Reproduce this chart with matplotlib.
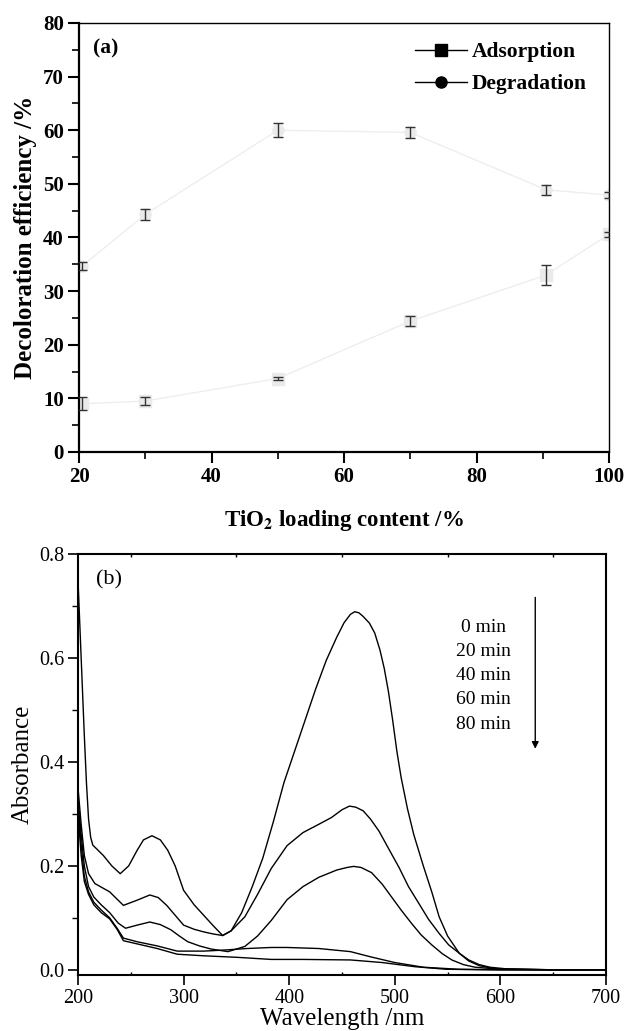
import matplotlib.pyplot as plt
from matplotlib.ticker import MultipleLocator
from matplotlib.lines import Line2D

plt.rcParams['font.family'] = ['Liberation Serif', 'DejaVu Serif']
plt.rcParams['mathtext.fontset'] = 'stix'

# (a) decoloration efficiency vs TiO2 loading
loading = [20.5, 30, 50, 70, 90.5, 100]
adsorption = [9.0, 9.5, 13.7, 24.4, 33.0, 40.6]
adsorption_err = [1.2, 0.7, 0.3, 0.9, 1.9, 0.5]
degradation = [34.7, 44.3, 60.0, 59.6, 48.9, 47.9]
degradation_err = [0.7, 1.0, 1.3, 1.0, 0.9, 0.5]

# (b) UV-vis spectra
wl_0 = [200, 202, 204, 206, 208, 210, 212, 214, 224, 232, 240, 248, 256, 262, 270, 278, 285,
        292, 300, 310, 319, 328, 337, 345, 355, 365, 375, 385, 395, 405, 415, 425, 435, 445,
        452, 458, 462, 466, 470, 476, 481, 486, 490, 494, 498, 502, 506, 512, 518, 527, 535,
        542, 550, 561, 570, 580, 595, 650, 700]
ab_0 = [0.75, 0.65, 0.55, 0.45, 0.36, 0.29, 0.255, 0.24, 0.22, 0.2, 0.185, 0.2, 0.23, 0.25,
        0.258, 0.25, 0.23, 0.2, 0.153, 0.125, 0.105, 0.085, 0.066, 0.075, 0.11, 0.16, 0.215,
        0.285, 0.36, 0.42, 0.48, 0.54, 0.595, 0.64, 0.668, 0.684, 0.689, 0.687, 0.68, 0.667,
        0.648, 0.615, 0.58, 0.535, 0.48, 0.42, 0.37, 0.31, 0.26, 0.2, 0.15, 0.102, 0.065,
        0.032, 0.017, 0.008, 0.002, 0.0, 0.0]

wl_20 = [200, 203, 206, 210, 216, 230, 243, 256, 268, 276, 284, 292, 300, 310, 319, 328, 337,
         345, 358, 370, 383, 398, 413, 428, 440, 450, 457, 463, 470, 477, 485, 495, 504, 513,
         523, 532, 542, 551, 561, 570, 580, 590, 605, 650, 700]
ab_20 = [0.35, 0.28, 0.22, 0.185, 0.166, 0.15, 0.124, 0.134, 0.144, 0.139, 0.124, 0.105, 0.086,
         0.078, 0.073, 0.069, 0.066, 0.075, 0.102, 0.145, 0.195, 0.239, 0.264, 0.28, 0.293,
         0.308, 0.315, 0.313, 0.306, 0.29, 0.267, 0.23, 0.197, 0.16, 0.127, 0.097, 0.07, 0.048,
         0.032, 0.019, 0.01, 0.005, 0.002, 0.0, 0.0]

wl_40 = [200, 203, 206, 210, 215, 222, 230, 238, 245, 256, 268, 278, 288, 296, 304, 315, 326,
         342, 358, 370, 383, 398, 413, 428, 445, 455, 461, 468, 478, 488, 497, 506, 516, 525,
         535, 545, 554, 565, 576, 600, 650, 700]
ab_40 = [0.33, 0.26, 0.2, 0.16, 0.14, 0.125, 0.11, 0.09, 0.08, 0.086, 0.092, 0.087, 0.077,
         0.065, 0.054, 0.046, 0.04, 0.035, 0.045, 0.065, 0.095, 0.135, 0.16, 0.178, 0.192,
         0.197, 0.199, 0.197, 0.187, 0.165, 0.14, 0.115, 0.089, 0.067, 0.048, 0.031, 0.019,
         0.01, 0.005, 0.001, 0.0, 0.0]

wl_60 = [200, 203, 206, 210, 215, 222, 230, 237, 243, 256, 275, 294, 319, 338, 360, 383, 398,
         428, 458, 477, 500, 527, 561, 600, 700]
ab_60 = [0.32, 0.24, 0.18, 0.15, 0.13, 0.115, 0.1, 0.08, 0.061, 0.054, 0.046, 0.036, 0.036,
         0.038, 0.041, 0.043, 0.043, 0.041, 0.035, 0.025, 0.014, 0.005, 0.001, 0.0, 0.0]

wl_80 = [200, 203, 206, 210, 215, 222, 230, 237, 243, 275, 294, 319, 351, 383, 413, 458,
         488, 519, 549, 600, 700]
ab_80 = [0.30, 0.22, 0.17, 0.145, 0.125, 0.11, 0.098, 0.078, 0.056, 0.041, 0.03, 0.027, 0.024,
         0.02, 0.02, 0.019, 0.014, 0.006, 0.001, 0.0, 0.0]

times = ['0 min', '20 min', '40 min', '60 min', '80 min']

fig = plt.figure(figsize=(6.25, 10.31), dpi=100)

# ---- panel (a)
ax1 = fig.add_axes([0.1264, 0.5616, 0.848, 0.4161])
ax1.plot(loading, adsorption, color='#eeeeee', lw=1, marker='s', ms=8,
         mfc='#eaeaea', mec='#eaeaea', zorder=2)
ax1.plot(loading, degradation, color='#eeeeee', lw=1, marker='o', ms=8,
         mfc='#eaeaea', mec='#eaeaea', zorder=2)
ax1.errorbar(loading, adsorption, yerr=adsorption_err, fmt='none',
             ecolor='#333333', elinewidth=1, capsize=3.5, capthick=1, zorder=3)
ax1.errorbar(loading, degradation, yerr=degradation_err, fmt='none',
             ecolor='#333333', elinewidth=1, capsize=3.5, capthick=1, zorder=3)

ax1.set_xlim(20, 100)
ax1.set_ylim(0, 80)
ax1.xaxis.set_major_locator(MultipleLocator(20))
ax1.xaxis.set_minor_locator(MultipleLocator(10))
ax1.yaxis.set_major_locator(MultipleLocator(10))
ax1.yaxis.set_minor_locator(MultipleLocator(5))
ax1.tick_params(which='major', direction='out', length=8, width=1.5, labelsize=15, pad=3)
ax1.tick_params(which='minor', direction='out', length=5, width=1.2)
for lab in ax1.get_xticklabels() + ax1.get_yticklabels():
    lab.set_fontweight('bold')
for s in ['left', 'bottom']:
    ax1.spines[s].set_linewidth(1.6)
for s in ['top', 'right']:
    ax1.spines[s].set_linewidth(1.0)

ax1.set_xlabel('TiO$_{\\mathbf{2}}$ loading content /%', fontsize=16.5, fontweight='bold', labelpad=15)
ax1.set_ylabel('Decoloration efficiency /%', fontsize=18, fontweight='bold', labelpad=4)
ax1.text(24.1, 75.2, '(a)', fontsize=15.5, fontweight='bold', ha='center', va='center')

handles = [Line2D([], [], color='black', lw=1, marker='s', ms=8),
           Line2D([], [], color='black', lw=1, marker='o', ms=8)]
ax1.legend(handles, ['Adsorption', 'Degradation'], loc='upper right', frameon=False,
           prop={'size': 15.5, 'weight': 'bold'}, handlelength=2.4, handletextpad=0.25,
           labelspacing=0.55, borderaxespad=0.0, bbox_to_anchor=(0.975, 0.975))

# ---- panel (b)
ax2 = fig.add_axes([0.1248, 0.0543, 0.8448, 0.4083])
for wl, ab in [(wl_0, ab_0), (wl_20, ab_20), (wl_40, ab_40), (wl_60, ab_60), (wl_80, ab_80)]:
    ax2.plot(wl, ab, color='black', lw=1)

ax2.set_xlim(200, 700)
ax2.set_ylim(-0.01, 0.8)
ax2.xaxis.set_major_locator(MultipleLocator(100))
ax2.xaxis.set_minor_locator(MultipleLocator(50))
ax2.yaxis.set_major_locator(MultipleLocator(0.2))
ax2.yaxis.set_minor_locator(MultipleLocator(0.1))
ax2.yaxis.set_major_formatter(plt.FormatStrFormatter('%.1f'))
ax2.tick_params(which='major', direction='out', length=7, width=1.2, labelsize=14.5, pad=3)
ax2.tick_params(which='minor', direction='out', length=4, width=1.0)
ax2.tick_params(axis='x', which='minor', top=True, direction='in', length=2)
for s in ax2.spines.values():
    s.set_linewidth(1.5)

ax2.set_xlabel('Wavelength /nm', fontsize=18, labelpad=0)
ax2.set_ylabel('Absorbance', fontsize=18, labelpad=4)
ax2.text(229.5, 0.751, '(b)', fontsize=16, ha='center', va='center')

label_y = [0.659, 0.613, 0.566, 0.52, 0.473]
for t, y in zip(times, label_y):
    ax2.text(584, y, t, fontsize=14, ha='center', va='center')
ax2.annotate('', xy=(633, 0.42), xytext=(633, 0.722),
             arrowprops=dict(arrowstyle='-|>', color='black', lw=1, mutation_scale=10))

fig.savefig('out.png', dpi=100)
